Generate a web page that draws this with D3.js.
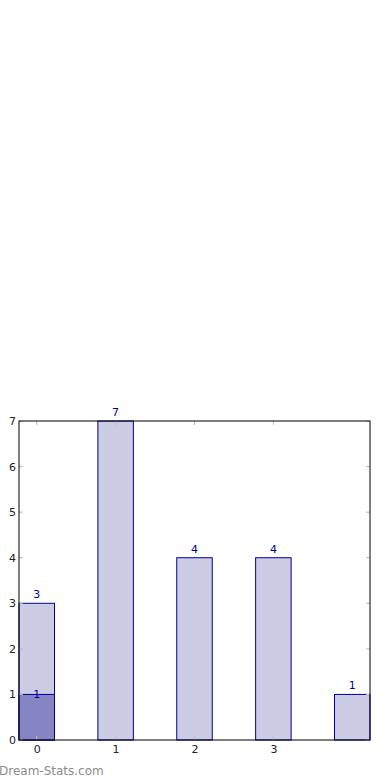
<!DOCTYPE html>
<html><head><meta charset="utf-8">
<script src="https://cdn.jsdelivr.net/npm/d3@7"></script>
<style>body{margin:0;background:#fff}svg{display:block}</style>
</head><body>
<script>
const categories = [0, 1, 2, 3, 4];
const totals = [3, 7, 4, 4, 1];
const highlight = [1, 0, 0, 0, 0];
const xTickLabels = ["0", "1", "2", "3"];
const yTicks = [0, 1, 2, 3, 4, 5, 6, 7];

const W = 390, H = 780;
const L = 19, R = 370, T = 421, B = 740;
const svg = d3.select("body").append("svg").attr("width", W).attr("height", H);

const x = d3.scaleLinear().domain([-0.225, 4.225]).range([L, R]);
const y = d3.scaleLinear().domain([0, 7]).range([B, T]);
const bw = x(0.225) - x(-0.225);

const font = "DejaVu Sans, sans-serif";

// bars
svg.selectAll("rect.tot").data(categories).enter().append("rect")
  .attr("x", d => x(d) - bw / 2).attr("y", (d, i) => y(totals[i]))
  .attr("width", bw).attr("height", (d, i) => y(0) - y(totals[i]))
  .attr("fill", "#ccccE5").attr("stroke", "#000099").attr("stroke-width", 1);
svg.selectAll("rect.hl").data(categories.filter((d, i) => highlight[i] > 0)).enter().append("rect")
  .attr("x", d => x(d) - bw / 2).attr("y", d => y(highlight[d]))
  .attr("width", bw).attr("height", d => y(0) - y(highlight[d]))
  .attr("fill", "#8585C3").attr("stroke", "#000099").attr("stroke-width", 1);

// value labels
svg.selectAll("text.v").data(categories).enter().append("text")
  .attr("x", d => x(d)).attr("y", (d, i) => y(totals[i]) - 5)
  .attr("text-anchor", "middle").attr("font-family", font).attr("font-size", 11)
  .attr("fill", "#000099").text((d, i) => totals[i]);
svg.selectAll("text.h").data(categories.filter((d, i) => highlight[i] > 0)).enter().append("text")
  .attr("x", d => x(d)).attr("y", d => y(highlight[d]) + 4)
  .attr("text-anchor", "middle").attr("font-family", font).attr("font-size", 11)
  .attr("fill", "#000099").text(d => highlight[d]);

// inner tick marks
const tickCol = "#bbbbbb";
const xt = xTickLabels.map((s, i) => i);
xt.forEach(t => {
  svg.append("line").attr("x1", x(t)).attr("x2", x(t)).attr("y1", B).attr("y2", B - 4).attr("stroke", tickCol);
  svg.append("line").attr("x1", x(t)).attr("x2", x(t)).attr("y1", T).attr("y2", T + 4).attr("stroke", tickCol);
});
yTicks.forEach(t => {
  svg.append("line").attr("x1", L).attr("x2", L + 4).attr("y1", y(t)).attr("y2", y(t)).attr("stroke", tickCol);
  svg.append("line").attr("x1", R).attr("x2", R - 4).attr("y1", y(t)).attr("y2", y(t)).attr("stroke", tickCol);
});

// frame
svg.append("rect").attr("x", L).attr("y", T).attr("width", R - L).attr("height", B - T)
  .attr("fill", "none").attr("stroke", "#000").attr("stroke-width", 1);

// axes labels
const xAxis = d3.axisBottom(x).tickValues(xt).tickFormat((d, i) => xTickLabels[i]).tickSize(0).tickPadding(5);
const gx = svg.append("g").attr("transform", `translate(0,${B})`).call(xAxis);
gx.select(".domain").remove();
gx.selectAll("text").attr("font-family", font).attr("font-size", 11).attr("fill", "#222");

const yAxis = d3.axisLeft(y).tickValues(yTicks).tickFormat(d3.format("d")).tickSize(0).tickPadding(3);
const gy = svg.append("g").attr("transform", `translate(${L},0)`).call(yAxis);
gy.select(".domain").remove();
gy.selectAll("text").attr("font-family", font).attr("font-size", 11).attr("fill", "#222");

// watermark
svg.append("text").attr("x", -1).attr("y", 775).attr("font-family", font).attr("font-size", 12)
  .attr("fill", "#8c8c8c").text("Dream-Stats.com");
</script>
</body></html>
